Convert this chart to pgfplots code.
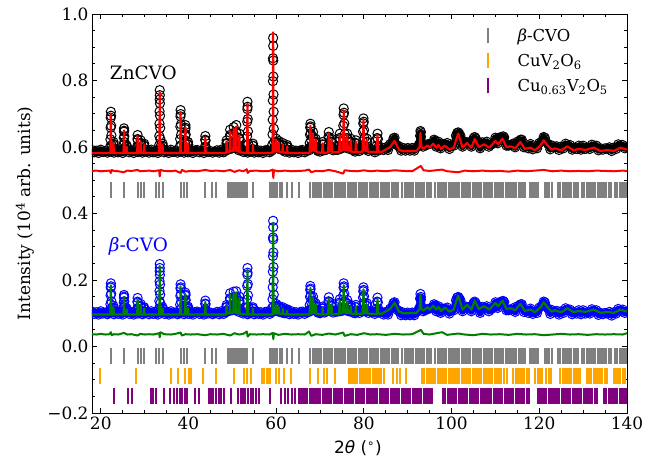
\documentclass[border=0pt]{standalone}
\usepackage{fontspec}
\setmainfont{DejaVu Serif}
\newfontfamily\dvs{DejaVu Sans}
\usepackage{pgfplots}
\pgfplotsset{compat=1.18}
\usepackage{pgfplotstable}
\definecolor{mplgreen}{RGB}{0,128,0}
\definecolor{mplorange}{RGB}{255,165,0}
\definecolor{mplpurple}{RGB}{128,0,128}
\definecolor{mplgray}{RGB}{128,128,128}

% observed intensities on the regular grid: x, ZnCVO, beta-CVO
\pgfplotstableread[row sep=\\]{
x zo bo\\
18.0 0.591 0.105\\ 18.5 0.584 0.098\\ 19.0 0.589 0.103\\ 19.5 0.582 0.096\\ 20.0 0.592 0.106\\ 20.5 0.585 0.099\\ 21.0 0.588 0.102\\ 21.5 0.583 0.097\\
22.0 0.586 0.100\\ 22.5 0.590 0.104\\ 23.0 0.583 0.097\\ 23.5 0.592 0.106\\ 24.0 0.584 0.098\\ 24.5 0.589 0.103\\ 25.0 0.582 0.096\\ 25.5 0.590 0.104\\
26.0 0.591 0.105\\ 26.5 0.584 0.098\\ 27.0 0.589 0.103\\ 27.5 0.582 0.096\\ 28.0 0.592 0.106\\ 28.5 0.585 0.099\\ 29.0 0.588 0.102\\ 29.5 0.583 0.097\\
30.0 0.586 0.100\\ 30.5 0.590 0.104\\ 31.0 0.583 0.097\\ 31.5 0.592 0.106\\ 32.0 0.584 0.098\\ 32.5 0.589 0.103\\ 33.0 0.582 0.096\\ 33.5 0.590 0.104\\
34.0 0.591 0.105\\ 34.5 0.584 0.098\\ 35.0 0.589 0.103\\ 35.5 0.582 0.096\\ 36.0 0.592 0.106\\ 36.5 0.585 0.099\\ 37.0 0.588 0.102\\ 37.5 0.583 0.097\\
38.0 0.586 0.100\\ 38.5 0.590 0.104\\ 39.0 0.583 0.097\\ 39.5 0.592 0.106\\ 40.0 0.584 0.098\\ 40.5 0.589 0.103\\ 41.0 0.582 0.096\\ 41.5 0.590 0.104\\
42.0 0.591 0.105\\ 42.5 0.584 0.098\\ 43.0 0.589 0.103\\ 43.5 0.582 0.096\\ 44.0 0.592 0.106\\ 44.5 0.585 0.099\\ 45.0 0.588 0.102\\ 45.5 0.583 0.097\\
46.0 0.586 0.100\\ 46.5 0.590 0.104\\ 47.0 0.583 0.097\\ 47.5 0.592 0.106\\ 48.0 0.584 0.098\\ 48.5 0.589 0.103\\ 49.0 0.592 0.106\\ 49.5 0.594 0.108\\
50.0 0.596 0.109\\ 50.5 0.597 0.110\\ 51.0 0.598 0.111\\ 51.5 0.590 0.104\\ 52.0 0.592 0.106\\ 52.5 0.585 0.099\\ 53.0 0.588 0.102\\ 53.5 0.583 0.097\\
54.0 0.586 0.100\\ 54.5 0.590 0.104\\ 55.0 0.583 0.097\\ 55.5 0.592 0.106\\ 56.0 0.584 0.098\\ 56.5 0.589 0.103\\ 57.0 0.582 0.096\\ 57.5 0.590 0.104\\
58.0 0.591 0.105\\ 58.5 0.584 0.098\\ 59.0 0.589 0.103\\ 59.5 0.596 0.106\\ 60.0 0.598 0.108\\ 60.5 0.595 0.105\\ 61.0 0.594 0.104\\ 61.5 0.590 0.101\\
62.0 0.586 0.100\\ 62.5 0.590 0.104\\ 63.0 0.583 0.097\\ 63.5 0.592 0.106\\ 64.0 0.584 0.098\\ 64.5 0.589 0.103\\ 65.0 0.582 0.096\\ 65.5 0.590 0.104\\
66.0 0.591 0.105\\ 66.5 0.584 0.098\\ 67.0 0.589 0.103\\ 67.5 0.590 0.104\\ 68.0 0.600 0.112\\ 68.5 0.602 0.113\\ 69.0 0.596 0.108\\ 69.5 0.588 0.102\\
70.0 0.586 0.100\\ 70.5 0.590 0.104\\ 71.0 0.590 0.102\\ 71.5 0.592 0.106\\ 72.0 0.596 0.108\\ 72.5 0.598 0.110\\ 73.0 0.590 0.102\\ 73.5 0.592 0.104\\
74.0 0.591 0.105\\ 74.5 0.594 0.106\\ 75.0 0.596 0.107\\ 75.5 0.600 0.110\\ 76.0 0.598 0.109\\ 76.5 0.595 0.106\\ 77.0 0.598 0.108\\ 77.5 0.590 0.102\\
78.0 0.586 0.100\\ 78.5 0.592 0.104\\ 79.0 0.588 0.101\\ 79.5 0.594 0.106\\ 80.0 0.598 0.110\\ 80.5 0.595 0.106\\ 81.0 0.588 0.101\\ 81.5 0.592 0.104\\
82.0 0.591 0.105\\ 82.5 0.584 0.098\\ 83.0 0.594 0.106\\ 83.5 0.590 0.102\\
84.0 0.599 0.104\\ 84.5 0.591 0.096\\ 85.0 0.599 0.104\\ 85.5 0.591 0.096\\ 86.0 0.609 0.114\\ 86.5 0.614 0.119\\ 87.0 0.628 0.133\\ 87.5 0.606 0.111\\
88.0 0.602 0.107\\ 88.5 0.589 0.094\\ 89.0 0.597 0.102\\ 89.5 0.589 0.094\\ 90.0 0.597 0.102\\ 90.5 0.589 0.094\\ 91.0 0.597 0.102\\ 91.5 0.589 0.094\\
92.0 0.599 0.104\\ 92.5 0.606 0.111\\ 93.0 0.644 0.149\\ 93.5 0.601 0.106\\ 94.0 0.604 0.109\\ 94.5 0.608 0.113\\ 95.0 0.609 0.114\\ 95.5 0.611 0.116\\
96.0 0.622 0.127\\ 96.5 0.601 0.106\\ 97.0 0.616 0.121\\ 97.5 0.596 0.101\\ 98.0 0.609 0.114\\ 98.5 0.608 0.113\\ 99.0 0.612 0.117\\ 99.5 0.594 0.099\\
100.0 0.604 0.109\\ 100.5 0.604 0.109\\ 101.0 0.634 0.139\\ 101.5 0.644 0.149\\ 102.0 0.634 0.139\\ 102.5 0.601 0.106\\ 103.0 0.616 0.121\\ 103.5 0.614 0.119\\
104.0 0.614 0.119\\ 104.5 0.601 0.106\\ 105.0 0.626 0.131\\ 105.5 0.626 0.131\\ 106.0 0.616 0.121\\ 106.5 0.596 0.101\\ 107.0 0.614 0.119\\ 107.5 0.611 0.116\\
108.0 0.616 0.121\\ 108.5 0.601 0.106\\ 109.0 0.607 0.112\\ 109.5 0.611 0.116\\ 110.0 0.628 0.133\\ 110.5 0.611 0.116\\ 111.0 0.626 0.131\\ 111.5 0.628 0.133\\
112.0 0.629 0.134\\ 112.5 0.604 0.109\\ 113.0 0.604 0.109\\ 113.5 0.606 0.111\\ 114.0 0.610 0.115\\ 114.5 0.599 0.104\\ 115.0 0.616 0.121\\ 115.5 0.618 0.123\\
116.0 0.622 0.127\\ 116.5 0.599 0.104\\ 117.0 0.602 0.107\\ 117.5 0.596 0.101\\ 118.0 0.609 0.114\\ 118.5 0.593 0.098\\ 119.0 0.599 0.104\\ 119.5 0.596 0.101\\
120.0 0.612 0.117\\ 120.5 0.616 0.121\\ 121.0 0.630 0.135\\ 121.5 0.616 0.121\\ 122.0 0.609 0.114\\ 122.5 0.593 0.098\\ 123.0 0.604 0.109\\ 123.5 0.599 0.104\\
124.0 0.602 0.107\\ 124.5 0.591 0.096\\ 125.0 0.601 0.106\\ 125.5 0.596 0.101\\ 126.0 0.610 0.115\\ 126.5 0.604 0.109\\ 127.0 0.606 0.111\\ 127.5 0.592 0.097\\
128.0 0.598 0.103\\ 128.5 0.594 0.099\\ 129.0 0.604 0.109\\ 129.5 0.592 0.097\\ 130.0 0.604 0.109\\ 130.5 0.594 0.099\\ 131.0 0.598 0.103\\ 131.5 0.594 0.099\\
132.0 0.607 0.112\\ 132.5 0.601 0.106\\ 133.0 0.604 0.109\\ 133.5 0.590 0.095\\ 134.0 0.596 0.101\\ 134.5 0.592 0.097\\ 135.0 0.596 0.101\\ 135.5 0.594 0.099\\
136.0 0.599 0.104\\ 136.5 0.588 0.093\\ 137.0 0.598 0.103\\ 137.5 0.594 0.099\\ 138.0 0.608 0.113\\ 138.5 0.602 0.107\\ 139.0 0.606 0.111\\ 139.5 0.596 0.101\\
140.0 0.600 0.105\\
}\obsgrid

% observed intensities on the peaks (order does not matter, only marks)
\pgfplotstableread[row sep=\\]{
x zo bo\\
86.75 0.626 0.131\\ 96.25 0.618 0.123\\ 101.25 0.642 0.147\\ 101.75 0.640 0.145\\ 105.25 0.630 0.135\\ 110.25 0.622 0.127\\ 111.25 0.630 0.135\\
111.75 0.632 0.137\\ 115.75 0.622 0.127\\ 121.25 0.628 0.133\\
22.15 0.601 0.111\\ 22.20 0.623 0.127\\ 22.25 0.658 0.154\\ 22.28 0.688 0.177\\ 22.30 0.706 0.190\\ 22.33 0.694 0.181\\ 22.37 0.664 0.159\\ 22.42 0.635 0.136\\ 22.48 0.605 0.114\\
22.80 0.595 0.107\\ 22.86 0.608 0.117\\ 22.90 0.615 0.122\\ 22.95 0.607 0.115\\ 23.02 0.594 0.106\\
25.15 0.595 0.107\\ 25.20 0.608 0.117\\ 25.25 0.628 0.133\\ 25.28 0.646 0.147\\ 25.30 0.656 0.155\\ 25.33 0.649 0.150\\ 25.37 0.632 0.136\\ 25.42 0.615 0.122\\ 25.48 0.597 0.108\\
25.80 0.592 0.105\\ 25.86 0.601 0.111\\ 25.90 0.605 0.115\\ 25.95 0.600 0.111\\ 26.02 0.592 0.104\\
28.30 0.602 0.114\\ 28.36 0.624 0.135\\ 28.40 0.636 0.146\\ 28.45 0.621 0.132\\ 28.52 0.599 0.112\\
29.00 0.597 0.108\\ 29.06 0.612 0.121\\ 29.10 0.620 0.128\\ 29.15 0.610 0.120\\ 29.22 0.595 0.107\\
29.80 0.594 0.105\\ 29.86 0.604 0.114\\ 29.90 0.610 0.118\\ 29.95 0.603 0.113\\ 30.02 0.593 0.105\\
33.30 0.605 0.115\\ 33.35 0.633 0.137\\ 33.39 0.670 0.167\\ 33.41 0.707 0.196\\ 33.43 0.743 0.226\\ 33.45 0.771 0.248\\ 33.47 0.756 0.236\\ 33.49 0.731 0.215\\ 33.52 0.694 0.186\\ 33.55 0.657 0.156\\ 33.59 0.624 0.130\\ 33.64 0.602 0.112\\
34.00 0.594 0.105\\ 34.06 0.604 0.114\\ 34.10 0.610 0.118\\ 34.15 0.603 0.113\\ 34.22 0.593 0.105\\
38.05 0.602 0.110\\ 38.10 0.624 0.126\\ 38.15 0.661 0.152\\ 38.18 0.692 0.174\\ 38.20 0.711 0.187\\ 38.23 0.699 0.178\\ 38.27 0.668 0.157\\ 38.32 0.637 0.135\\ 38.38 0.606 0.113\\
39.15 0.596 0.107\\ 39.20 0.611 0.119\\ 39.25 0.634 0.137\\ 39.28 0.654 0.153\\ 39.30 0.666 0.162\\ 39.33 0.658 0.156\\ 39.37 0.638 0.140\\ 39.42 0.619 0.125\\ 39.48 0.599 0.109\\
39.80 0.595 0.106\\ 39.86 0.608 0.115\\ 39.90 0.615 0.120\\ 39.95 0.607 0.114\\ 40.02 0.594 0.105\\
43.75 0.601 0.111\\ 43.81 0.622 0.129\\ 43.85 0.633 0.138\\ 43.90 0.619 0.127\\ 43.97 0.599 0.110\\
48.60 0.597 0.108\\ 48.66 0.612 0.119\\ 48.70 0.620 0.125\\ 48.75 0.610 0.118\\ 48.82 0.595 0.106\\
49.40 0.607 0.118\\ 49.46 0.636 0.145\\ 49.50 0.652 0.160\\ 49.55 0.633 0.142\\ 49.62 0.603 0.115\\
50.20 0.609 0.120\\ 50.26 0.642 0.149\\ 50.30 0.660 0.165\\ 50.35 0.638 0.146\\ 50.42 0.605 0.116\\
50.80 0.611 0.120\\ 50.86 0.646 0.150\\ 50.90 0.666 0.166\\ 50.95 0.642 0.146\\ 51.02 0.607 0.117\\
51.50 0.603 0.115\\ 51.56 0.627 0.138\\ 51.60 0.640 0.150\\ 51.65 0.624 0.135\\ 51.72 0.600 0.113\\
53.30 0.605 0.116\\ 53.35 0.632 0.141\\ 53.40 0.676 0.182\\ 53.43 0.714 0.216\\ 53.45 0.736 0.236\\ 53.48 0.721 0.222\\ 53.52 0.684 0.188\\ 53.57 0.647 0.154\\ 53.63 0.609 0.120\\
54.60 0.594 0.105\\ 54.66 0.604 0.114\\ 54.70 0.610 0.118\\ 54.75 0.603 0.113\\ 54.82 0.593 0.105\\
59.12 0.607 0.117\\ 59.17 0.638 0.142\\ 59.21 0.682 0.178\\ 59.24 0.740 0.225\\ 59.26 0.798 0.272\\ 59.28 0.867 0.328\\ 59.30 0.928 0.378\\ 59.32 0.904 0.359\\ 59.34 0.860 0.322\\ 59.36 0.812 0.283\\ 59.39 0.758 0.239\\ 59.42 0.706 0.197\\ 59.46 0.655 0.156\\ 59.51 0.614 0.122\\
59.90 0.598 0.108\\ 59.96 0.616 0.121\\ 60.00 0.625 0.128\\ 60.05 0.614 0.120\\ 60.12 0.597 0.107\\
60.50 0.596 0.107\\ 60.56 0.610 0.117\\ 60.60 0.618 0.122\\ 60.65 0.609 0.115\\ 60.72 0.595 0.106\\
61.40 0.595 0.105\\ 61.46 0.606 0.114\\ 61.50 0.612 0.118\\ 61.55 0.605 0.113\\ 61.62 0.593 0.105\\
62.40 0.593 0.104\\ 62.46 0.601 0.109\\ 62.50 0.606 0.112\\ 62.55 0.600 0.108\\ 62.62 0.592 0.103\\
67.58 0.597 0.110\\ 67.65 0.612 0.125\\ 67.72 0.637 0.149\\ 67.77 0.658 0.170\\ 67.80 0.670 0.182\\ 67.85 0.662 0.174\\ 67.90 0.641 0.153\\ 67.98 0.620 0.133\\ 68.07 0.599 0.112\\
68.20 0.604 0.115\\ 68.32 0.631 0.138\\ 68.40 0.645 0.150\\ 68.50 0.628 0.135\\ 68.64 0.602 0.113\\
68.80 0.598 0.109\\ 68.92 0.616 0.123\\ 69.00 0.625 0.130\\ 69.10 0.614 0.121\\ 69.24 0.597 0.108\\
70.40 0.595 0.106\\ 70.52 0.608 0.115\\ 70.60 0.615 0.120\\ 70.70 0.607 0.114\\ 70.84 0.594 0.105\\
71.80 0.604 0.114\\ 71.92 0.631 0.136\\ 72.00 0.645 0.148\\ 72.10 0.628 0.134\\ 72.24 0.602 0.112\\
72.40 0.598 0.109\\ 72.52 0.616 0.123\\ 72.60 0.625 0.130\\ 72.70 0.614 0.121\\ 72.84 0.597 0.108\\
74.30 0.603 0.113\\ 74.42 0.627 0.132\\ 74.50 0.640 0.142\\ 74.60 0.624 0.129\\ 74.74 0.600 0.111\\
75.10 0.602 0.111\\ 75.20 0.626 0.127\\ 75.30 0.664 0.154\\ 75.36 0.697 0.177\\ 75.40 0.716 0.190\\ 75.46 0.703 0.181\\ 75.54 0.671 0.159\\ 75.64 0.639 0.136\\ 75.76 0.606 0.114\\
76.00 0.603 0.112\\ 76.12 0.627 0.130\\ 76.20 0.640 0.140\\ 76.30 0.624 0.128\\ 76.44 0.600 0.110\\
76.80 0.598 0.108\\ 76.92 0.616 0.119\\ 77.00 0.625 0.125\\ 77.10 0.614 0.118\\ 77.24 0.597 0.106\\
78.00 0.597 0.108\\ 78.12 0.612 0.119\\ 78.20 0.620 0.125\\ 78.30 0.610 0.118\\ 78.44 0.595 0.106\\
79.60 0.599 0.109\\ 79.70 0.617 0.123\\ 79.80 0.646 0.147\\ 79.86 0.671 0.166\\ 79.90 0.686 0.178\\ 79.96 0.676 0.170\\ 80.04 0.651 0.151\\ 80.14 0.627 0.131\\ 80.26 0.602 0.112\\
80.50 0.598 0.109\\ 80.62 0.616 0.123\\ 80.70 0.625 0.130\\ 80.80 0.614 0.121\\ 80.94 0.597 0.108\\
82.90 0.603 0.114\\ 83.02 0.627 0.135\\ 83.10 0.640 0.147\\ 83.20 0.624 0.133\\ 83.34 0.600 0.112\\
92.70 0.609 0.117\\ 92.82 0.634 0.144\\ 92.90 0.648 0.158\\ 93.00 0.631 0.141\\ 93.14 0.606 0.115\\
}\obspk

% calculated profiles: x, ZnCVO, beta-CVO
\pgfplotstableread[row sep=\\]{
x zc bc\\
18.0 0.582 0.096\\
22.18 0.582 0.096\\ 22.26 0.641 0.140\\ 22.30 0.700 0.184\\ 22.34 0.641 0.140\\ 22.42 0.582 0.096\\
22.82 0.582 0.096\\ 22.90 0.611 0.118\\ 22.98 0.582 0.096\\
25.18 0.582 0.096\\ 25.26 0.616 0.122\\ 25.30 0.650 0.149\\ 25.34 0.616 0.122\\ 25.42 0.582 0.096\\
25.82 0.582 0.096\\ 25.90 0.601 0.111\\ 25.98 0.582 0.096\\
28.32 0.582 0.096\\ 28.40 0.632 0.142\\ 28.48 0.582 0.096\\
29.02 0.582 0.096\\ 29.10 0.616 0.124\\ 29.18 0.582 0.096\\
29.82 0.582 0.096\\ 29.90 0.606 0.114\\ 29.98 0.582 0.096\\
33.33 0.582 0.096\\ 33.41 0.673 0.169\\ 33.45 0.765 0.242\\ 33.49 0.673 0.169\\ 33.57 0.582 0.096\\
34.02 0.582 0.096\\ 34.10 0.606 0.114\\ 34.18 0.582 0.096\\
38.08 0.582 0.096\\ 38.16 0.643 0.138\\ 38.20 0.705 0.181\\ 38.24 0.643 0.138\\ 38.32 0.582 0.096\\
39.18 0.582 0.096\\ 39.26 0.621 0.126\\ 39.30 0.660 0.156\\ 39.34 0.621 0.126\\ 39.42 0.582 0.096\\
39.82 0.582 0.096\\ 39.90 0.611 0.116\\ 39.98 0.582 0.096\\
43.77 0.582 0.096\\ 43.85 0.629 0.134\\ 43.93 0.582 0.096\\
48.62 0.582 0.096\\ 48.70 0.616 0.121\\ 48.78 0.585 0.099\\
49.42 0.586 0.100\\ 49.50 0.648 0.156\\ 49.58 0.588 0.101\\
50.22 0.588 0.101\\ 50.30 0.656 0.161\\ 50.38 0.590 0.102\\
50.82 0.589 0.102\\ 50.90 0.662 0.162\\ 50.98 0.588 0.101\\
51.52 0.586 0.100\\ 51.60 0.636 0.146\\ 51.68 0.584 0.098\\
53.33 0.582 0.096\\ 53.41 0.656 0.163\\ 53.45 0.730 0.230\\ 53.49 0.656 0.163\\ 53.57 0.582 0.096\\
54.62 0.582 0.096\\ 54.70 0.606 0.114\\ 54.78 0.582 0.096\\
59.18 0.582 0.096\\ 59.25 0.700 0.200\\ 59.30 0.945 0.372\\ 59.35 0.700 0.200\\ 59.42 0.586 0.099\\
59.92 0.587 0.100\\ 60.00 0.621 0.124\\ 60.08 0.587 0.100\\
60.52 0.586 0.099\\ 60.60 0.614 0.118\\ 60.68 0.586 0.099\\
61.42 0.584 0.098\\ 61.50 0.608 0.114\\ 61.58 0.584 0.098\\
62.42 0.582 0.096\\ 62.50 0.602 0.108\\ 62.58 0.582 0.096\\
67.62 0.582 0.096\\ 67.74 0.623 0.136\\ 67.80 0.664 0.176\\ 67.86 0.623 0.136\\ 67.98 0.588 0.100\\
68.25 0.590 0.101\\ 68.40 0.641 0.146\\ 68.55 0.590 0.101\\
68.85 0.588 0.100\\ 69.00 0.621 0.126\\ 69.15 0.585 0.098\\
70.45 0.582 0.096\\ 70.60 0.611 0.116\\ 70.75 0.582 0.096\\
71.85 0.584 0.097\\ 72.00 0.641 0.144\\ 72.15 0.588 0.100\\
72.45 0.588 0.100\\ 72.60 0.621 0.126\\ 72.75 0.584 0.097\\
74.35 0.584 0.097\\ 74.50 0.636 0.138\\ 74.65 0.588 0.100\\
75.20 0.590 0.101\\ 75.32 0.646 0.140\\ 75.40 0.710 0.184\\ 75.48 0.646 0.140\\ 75.60 0.592 0.102\\
76.05 0.590 0.101\\ 76.20 0.636 0.136\\ 76.35 0.590 0.101\\
76.85 0.588 0.100\\ 77.00 0.621 0.121\\ 77.15 0.585 0.098\\
78.05 0.584 0.097\\ 78.20 0.616 0.121\\ 78.35 0.584 0.097\\
79.70 0.586 0.099\\ 79.82 0.631 0.134\\ 79.90 0.680 0.172\\ 79.98 0.631 0.134\\ 80.10 0.590 0.101\\
80.55 0.588 0.100\\ 80.70 0.621 0.126\\ 80.85 0.586 0.099\\
82.95 0.584 0.097\\ 83.10 0.636 0.143\\ 83.25 0.586 0.099\\
84.0 0.585 0.098\\ 86.0 0.600 0.113\\ 87.0 0.618 0.131\\ 88.0 0.592 0.105\\ 89.0 0.587 0.100\\
92.0 0.588 0.101\\ 92.7 0.600 0.113\\ 92.9 0.642 0.155\\ 93.1 0.600 0.113\\ 93.6 0.595 0.108\\
94.5 0.605 0.118\\ 95.0 0.598 0.111\\ 95.8 0.610 0.123\\ 96.5 0.598 0.111\\ 97.0 0.606 0.119\\
97.6 0.594 0.107\\ 98.5 0.604 0.117\\ 99.5 0.592 0.105\\ 100.5 0.598 0.111\\ 101.0 0.620 0.133\\
101.5 0.640 0.153\\ 102.0 0.620 0.133\\ 102.5 0.598 0.111\\ 103.5 0.612 0.125\\ 104.5 0.598 0.111\\
105.3 0.624 0.137\\ 106.2 0.600 0.113\\ 107.4 0.608 0.121\\ 108.6 0.598 0.111\\ 110.0 0.618 0.131\\
110.6 0.608 0.121\\ 111.6 0.625 0.138\\ 112.5 0.600 0.113\\ 113.5 0.602 0.115\\ 114.5 0.596 0.109\\
115.7 0.615 0.128\\ 116.7 0.594 0.107\\ 118.0 0.598 0.111\\ 119.0 0.590 0.103\\ 120.3 0.605 0.118\\
121.0 0.620 0.133\\ 121.8 0.606 0.119\\ 122.8 0.592 0.105\\ 123.5 0.596 0.109\\ 125.0 0.590 0.103\\
126.4 0.602 0.115\\ 127.8 0.590 0.103\\ 129.0 0.594 0.107\\ 130.5 0.591 0.104\\ 132.4 0.598 0.111\\
134.0 0.588 0.101\\ 135.5 0.591 0.104\\ 137.0 0.588 0.101\\ 138.5 0.598 0.111\\ 139.5 0.594 0.107\\
140.0 0.592 0.105\\
}\calc

% difference curves: x, ZnCVO, beta-CVO
\pgfplotstableread[row sep=\\]{
x zd bd\\
18.0 0.528 0.037\\ 19.0 0.529 0.036\\ 20.0 0.527 0.038\\ 21.0 0.528 0.036\\ 22.0 0.529 0.037\\
22.3 0.522 0.043\\ 22.5 0.531 0.034\\ 23.0 0.528 0.037\\ 24.0 0.527 0.036\\ 25.3 0.524 0.041\\
26.0 0.529 0.036\\ 27.0 0.528 0.037\\ 28.4 0.531 0.033\\ 29.0 0.527 0.038\\ 30.0 0.528 0.036\\
31.0 0.529 0.037\\ 32.0 0.527 0.036\\ 33.3 0.530 0.040\\ 33.45 0.512 0.028\\ 33.6 0.531 0.043\\
34.5 0.528 0.037\\ 36.0 0.527 0.036\\ 37.0 0.529 0.038\\ 38.2 0.522 0.042\\ 38.5 0.531 0.033\\
39.3 0.526 0.037\\ 40.5 0.528 0.036\\ 42.0 0.527 0.037\\ 43.85 0.531 0.034\\ 45.0 0.528 0.037\\
46.5 0.529 0.036\\ 48.0 0.527 0.038\\ 49.5 0.531 0.033\\ 50.5 0.525 0.040\\ 51.5 0.530 0.036\\
52.5 0.527 0.038\\ 53.3 0.533 0.045\\ 53.5 0.522 0.030\\ 54.0 0.528 0.037\\ 55.5 0.529 0.036\\
57.0 0.527 0.037\\ 58.5 0.528 0.036\\ 59.2 0.532 0.041\\ 59.35 0.507 0.022\\ 59.5 0.530 0.040\\
60.5 0.527 0.035\\ 62.0 0.529 0.038\\ 63.5 0.527 0.036\\ 65.0 0.528 0.037\\ 66.5 0.529 0.036\\
67.5 0.532 0.045\\ 68.0 0.524 0.032\\ 69.0 0.528 0.037\\ 70.5 0.527 0.035\\ 72.0 0.531 0.039\\
73.5 0.527 0.036\\ 75.3 0.520 0.042\\ 75.6 0.530 0.032\\ 77.0 0.528 0.037\\ 78.5 0.527 0.035\\
80.0 0.530 0.040\\ 81.5 0.527 0.036\\ 83.0 0.529 0.037\\ 85.0 0.527 0.035\\ 87.0 0.530 0.038\\
89.0 0.528 0.036\\ 91.0 0.527 0.037\\ 93.0 0.543 0.050\\ 93.6 0.530 0.038\\ 95.0 0.528 0.036\\
97.8 0.532 0.043\\ 99.0 0.527 0.035\\ 101.5 0.524 0.039\\ 103.0 0.529 0.036\\ 105.0 0.527 0.034\\
107.0 0.529 0.038\\ 109.0 0.527 0.036\\ 111.0 0.528 0.037\\ 113.0 0.526 0.035\\ 115.0 0.529 0.038\\
117.0 0.527 0.036\\ 119.0 0.529 0.037\\ 121.0 0.531 0.034\\ 123.0 0.527 0.036\\ 125.0 0.529 0.038\\
127.0 0.527 0.036\\ 129.0 0.528 0.037\\ 131.0 0.527 0.035\\ 133.0 0.529 0.037\\ 135.0 0.528 0.036\\
137.0 0.527 0.037\\ 139.0 0.529 0.036\\ 140.0 0.528 0.040\\
}\diff

% reflection positions
\pgfplotstableread[row sep=\\]{
x\\
22.3\\ 25.3\\ 28.4\\ 29.1\\ 29.9\\ 32.5\\ 33.3\\ 34.1\\ 38.2\\ 39.0\\ 39.7\\ 43.8\\ 45.4\\ 46.2\\
48.9\\ 49.3\\ 49.7\\ 50.1\\ 50.4\\ 50.8\\ 51.2\\ 51.6\\ 52.0\\ 52.4\\ 52.9\\ 53.4\\ 54.7\\
58.7\\ 59.1\\ 59.5\\ 59.9\\ 60.3\\ 60.8\\ 61.4\\ 62.5\\ 63.7\\ 65.2\\
67.8\\ 68.3\\ 68.8\\ 69.3\\ 69.8\\ 70.3\\ 70.8\\ 71.3\\ 71.8\\ 72.3\\ 72.8\\ 73.3\\ 73.8\\ 74.3\\ 74.8\\
75.3\\ 75.8\\ 76.3\\ 76.8\\ 77.3\\ 77.8\\ 78.3\\ 78.8\\ 79.3\\ 79.8\\ 80.3\\ 80.8\\ 81.3\\ 81.8\\ 82.3\\
82.8\\ 83.3\\ 83.8\\ 84.3\\ 84.8\\ 85.3\\ 85.8\\ 86.3\\ 86.8\\ 87.3\\ 87.8\\ 88.8\\ 89.3\\ 89.8\\ 90.3\\
90.8\\ 91.3\\ 91.8\\ 92.3\\ 92.8\\ 93.3\\ 93.8\\ 94.3\\ 94.8\\ 95.3\\ 96.3\\ 96.8\\ 97.3\\ 97.8\\ 98.3\\
98.8\\ 99.3\\ 99.8\\ 100.3\\ 100.8\\ 101.3\\ 101.8\\ 102.3\\ 102.8\\ 103.3\\ 103.8\\ 104.3\\ 104.8\\
105.3\\ 105.8\\ 106.3\\ 106.8\\ 107.3\\ 107.8\\ 108.3\\ 108.8\\ 109.3\\ 109.8\\ 110.3\\ 110.8\\ 111.3\\
111.8\\ 112.3\\ 112.8\\ 113.3\\ 113.8\\ 114.3\\ 114.8\\ 115.3\\ 115.8\\ 116.3\\ 116.8\\ 117.8\\ 118.3\\
118.8\\ 119.3\\ 119.8\\ 121.3\\ 121.8\\ 122.3\\ 122.8\\ 124.3\\ 124.8\\ 125.3\\ 125.8\\ 126.3\\ 126.8\\
127.3\\ 127.8\\ 128.3\\ 128.8\\ 129.8\\ 130.3\\ 130.8\\ 131.3\\ 131.8\\ 132.3\\ 132.8\\ 133.3\\ 133.8\\
134.3\\ 134.8\\ 135.3\\ 135.8\\ 136.3\\ 137.3\\ 137.8\\ 138.3\\ 138.8\\ 139.3\\ 139.8\\
}\refcvo
\pgfplotstablecreatecol[create col/set={0}]{d}{\refcvo}

\pgfplotstableread[row sep=\\]{
x\\
19.8\\ 28.0\\ 36.1\\ 37.5\\ 39.1\\ 40.1\\ 40.5\\ 43.2\\ 46.2\\ 50.4\\ 52.6\\ 53.4\\ 54.2\\ 56.8\\ 57.3\\
57.8\\ 58.3\\ 58.7\\ 59.9\\ 60.6\\ 61.8\\ 63.4\\ 67.7\\ 69.5\\ 70.9\\ 71.6\\ 73.5\\
76.5\\ 77.0\\ 77.5\\ 78.0\\ 78.5\\ 79.0\\ 79.5\\ 80.0\\ 80.5\\ 81.0\\ 81.5\\ 82.0\\ 82.5\\ 83.0\\ 83.5\\
84.0\\ 84.5\\ 86.6\\ 87.6\\ 88.3\\ 89.5\\
93.3\\ 93.8\\ 94.3\\ 94.8\\ 95.3\\ 95.8\\ 96.3\\ 96.8\\ 97.3\\ 97.8\\ 98.3\\ 98.8\\ 99.3\\ 99.8\\ 100.3\\
100.8\\ 101.3\\ 101.8\\ 102.3\\ 102.8\\ 103.3\\ 103.8\\ 104.3\\ 104.8\\ 105.3\\ 105.8\\ 106.3\\ 106.8\\
107.3\\ 107.8\\ 108.3\\ 108.8\\ 109.3\\ 109.8\\ 110.3\\ 110.8\\ 111.3\\ 112.0\\ 112.6\\
114.1\\ 114.6\\ 115.1\\ 115.6\\ 116.1\\ 116.6\\ 117.1\\ 117.6\\ 119.1\\ 119.6\\ 120.1\\ 120.6\\ 121.6\\
122.1\\ 122.6\\ 124.8\\ 125.3\\ 125.8\\ 126.3\\ 126.8\\ 127.3\\ 127.8\\ 128.3\\ 128.8\\ 129.3\\
130.9\\ 131.4\\ 131.9\\ 132.4\\ 132.9\\ 133.4\\ 133.9\\ 134.4\\ 134.9\\ 135.4\\
137.0\\ 137.5\\ 138.0\\ 138.5\\ 139.0\\ 139.5\\
}\refcuvo
\pgfplotstablecreatecol[create col/set={0}]{d}{\refcuvo}

\pgfplotstableread[row sep=\\]{
x\\
23.0\\ 26.1\\ 27.2\\ 31.4\\ 31.8\\ 32.5\\ 34.4\\ 35.9\\ 36.6\\ 37.3\\ 38.0\\ 38.5\\ 39.2\\ 39.7\\ 41.6\\
42.4\\ 44.7\\ 45.2\\ 45.7\\ 46.3\\ 46.9\\ 47.5\\ 48.1\\ 49.6\\ 51.4\\ 51.9\\ 52.4\\ 53.0\\ 53.6\\ 54.2\\
54.8\\ 55.4\\ 56.0\\ 58.7\\ 61.0\\ 62.1\\ 62.8\\ 63.6\\ 64.4\\
65.1\\ 65.6\\ 66.1\\ 66.6\\ 67.1\\ 67.6\\ 68.1\\ 68.6\\ 69.1\\ 69.6\\ 70.1\\ 70.6\\ 71.1\\ 71.6\\ 72.1\\
72.6\\ 73.1\\ 73.6\\ 74.1\\ 74.6\\ 75.1\\ 75.6\\ 76.1\\ 76.6\\ 77.1\\ 77.6\\ 78.1\\ 78.6\\ 79.1\\ 79.6\\
80.1\\ 80.6\\ 81.1\\ 81.6\\ 82.1\\ 82.6\\ 83.1\\ 83.6\\ 84.1\\ 84.6\\ 85.1\\ 85.6\\ 86.1\\ 86.6\\ 87.1\\
87.6\\ 88.1\\ 88.6\\ 89.1\\ 89.6\\ 90.1\\ 90.6\\ 91.1\\ 91.6\\ 92.1\\ 92.6\\ 93.1\\ 93.6\\ 94.1\\ 94.6\\
95.1\\ 95.6\\
98.1\\ 98.6\\ 99.1\\ 99.6\\ 100.1\\ 100.6\\ 101.1\\ 101.6\\ 102.1\\ 102.6\\ 103.1\\ 103.6\\ 104.1\\
104.6\\ 105.1\\ 105.6\\ 106.1\\ 106.6\\ 107.1\\ 107.6\\ 108.1\\ 108.6\\ 109.1\\ 109.6\\ 110.1\\ 110.6\\
111.1\\ 111.6\\ 112.1\\ 112.6\\ 113.1\\ 113.6\\ 114.1\\ 114.6\\ 115.1\\ 115.6\\ 116.1\\ 116.6\\ 117.1\\
117.6\\
119.6\\ 120.1\\ 120.6\\ 121.1\\ 121.6\\ 122.1\\ 122.6\\ 123.1\\ 123.6\\ 124.1\\ 124.6\\ 125.1\\ 125.6\\
126.1\\ 126.6\\ 127.1\\ 127.6\\ 128.1\\ 128.6\\ 129.1\\ 129.6\\ 130.1\\ 130.6\\ 131.1\\ 131.6\\ 132.1\\
132.6\\ 133.1\\
134.8\\ 135.3\\ 135.8\\ 136.3\\ 136.8\\ 137.3\\ 137.8\\ 138.3\\ 138.8\\ 139.3\\ 139.8\\
}\refcuvob
\pgfplotstablecreatecol[create col/set={0}]{d}{\refcuvob}

\begin{document}
\begin{tikzpicture}
\path[use as bounding box] (-92bp,-49bp) rectangle (575bp,413bp);
\begin{axis}[
    scale only axis, width=535bp, height=399bp,
    xmin=18, xmax=140, ymin=-0.2, ymax=1.0,
    clip marker paths=true,
    xtick={20,40,60,80,100,120,140},
    xticklabels={20,40,60,80,100,120,140},
    ytick={-0.2,0,0.2,0.4,0.6,0.8,1.0},
    yticklabels={−0.2,0.0,0.2,0.4,0.6,0.8,1.0},
    minor x tick num=3, minor y tick num=3,
    tick align=inside, tick pos=both,
    major tick length=5bp, minor tick length=3bp,
    tick style={black, line width=0.8bp},
    axis line style={line width=0.8bp},
    ticklabel style={font=\fontsize{17}{20}\selectfont},
    label style={font=\fontsize{17}{20}\selectfont},
    xlabel={{\dvs 2\textit{θ} (\textsuperscript{∘})}},
    ylabel={Intensity (10\textsuperscript{4} arb. units)},
    xlabel style={at={(axis description cs:0.497,-0.088)}, anchor=center},
    ylabel style={at={(axis description cs:-0.125,0.5)}, anchor=center},
    legend style={draw=none, fill=none, at={(axis cs:108.15,0.961)},
      anchor=north west, inner sep=0pt, outer sep=0pt, row sep=7bp,
      font=\fontsize{16.5}{18}\selectfont,
      nodes={inner sep=0pt, text height=15bp, text depth=3bp}},
    legend cell align=left,
  ]
% ZnCVO: observed (dense band + circles), calculated, difference, reflections
\addplot[black, line width=7bp, line join=round, forget plot] table[x=x, y=zo] {\obsgrid};
\addplot[only marks, mark=o, mark size=4.6bp, black,
  mark options={line width=1bp}, forget plot] table[x=x, y=zo] {\obsgrid};
\addplot[only marks, mark=o, mark size=4.6bp, black,
  mark options={line width=1bp}, forget plot] table[x=x, y=zo] {\obspk};
\addplot[red, line width=2.2bp, line join=round, forget plot] table[x=x, y=zc] {\calc};
\addplot[red, line width=2bp, line join=round, forget plot] table[x=x, y=zd] {\diff};
\addplot[only marks, mark=|, mark size=8bp, mplgray, mark options={line width=2bp},
  forget plot] table[x=x, y expr=0.470] {\refcvo};
% beta-CVO
\addplot[blue, line width=7bp, line join=round, forget plot] table[x=x, y=bo] {\obsgrid};
\addplot[only marks, mark=o, mark size=4.6bp, blue,
  mark options={line width=1bp}, forget plot] table[x=x, y=bo] {\obsgrid};
\addplot[only marks, mark=o, mark size=4.6bp, blue,
  mark options={line width=1bp}, forget plot] table[x=x, y=bo] {\obspk};
\addplot[mplgreen, line width=2.2bp, line join=round, forget plot] table[x=x, y=bc] {\calc};
\addplot[mplgreen, line width=2bp, line join=round, forget plot] table[x=x, y=bd] {\diff};
\addplot[only marks, mark=|, mark size=8bp, mplgray, mark options={line width=2bp},
  forget plot] table[x=x, y expr=-0.029] {\refcvo};
\addplot[only marks, mark=|, mark size=8bp, mplorange, mark options={line width=2bp},
  forget plot] table[x=x, y expr=-0.089] {\refcuvo};
\addplot[only marks, mark=|, mark size=8bp, mplpurple, mark options={line width=2bp},
  forget plot] table[x=x, y expr=-0.149] {\refcuvob};

\addlegendimage{legend image code/.code={\draw[mplgray, line width=2bp] (0bp,-7.5bp) -- (0bp,7.5bp); \path (29bp,0bp);}}
\addlegendentry{\textit{β}-CVO}
\addlegendimage{legend image code/.code={\draw[mplorange, line width=2bp] (0bp,-7.5bp) -- (0bp,7.5bp); \path (29bp,0bp);}}
\addlegendentry{CuV\textsubscript{2}O\textsubscript{6}}
\addlegendimage{legend image code/.code={\draw[mplpurple, line width=2bp] (0bp,-7.5bp) -- (0bp,7.5bp); \path (29bp,0bp);}}
\addlegendentry{Cu\textsubscript{0.63}V\textsubscript{2}O\textsubscript{5}}

\node[anchor=base west, inner sep=0pt, font=\fontsize{18.5}{20}\selectfont]
  at (axis cs:22.05,0.8015) {ZnCVO};
\node[anchor=base west, inner sep=0pt, text=blue, font=\fontsize{18.5}{20}\selectfont]
  at (axis cs:21.8,0.285) {\textit{β}-CVO};
\end{axis}
\end{tikzpicture}
\end{document}
